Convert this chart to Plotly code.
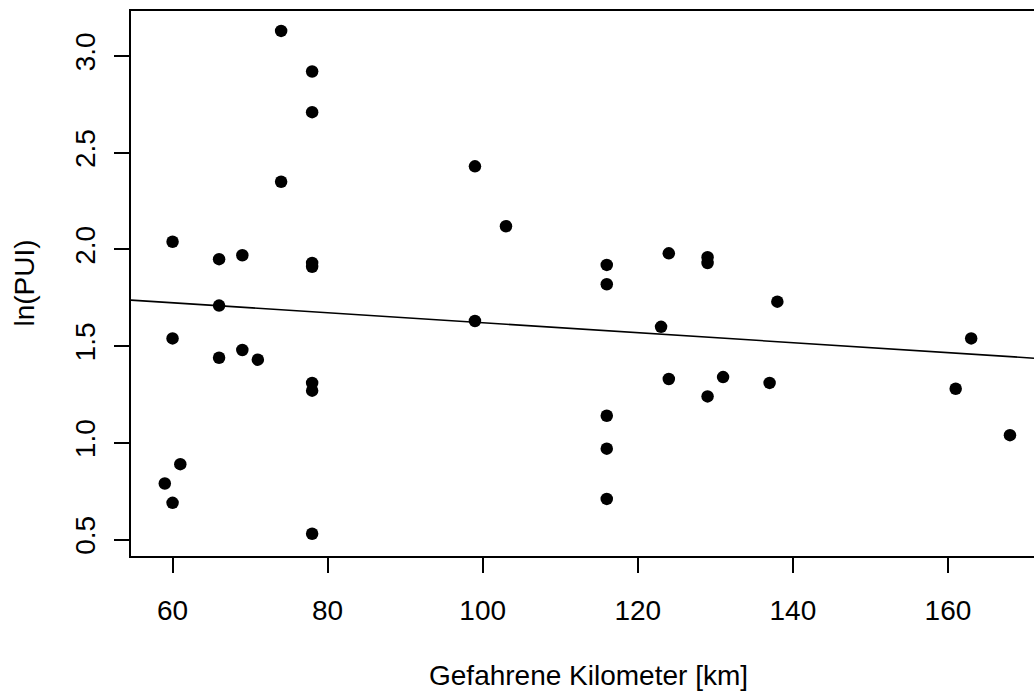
import numpy as np
import plotly.graph_objects as go

# Data
km = [60, 60, 60, 59, 61, 66, 66, 66, 69, 69, 71, 74, 74,
      78, 78, 78, 78, 78, 78, 78, 99, 99, 103,
      116, 116, 116, 116, 116, 123, 124, 124, 129, 129, 129,
      131, 137, 138, 161, 163, 168]
ln_pui = [2.04, 1.54, 0.69, 0.79, 0.89, 1.95, 1.71, 1.44, 1.97, 1.48, 1.43, 3.13, 2.35,
          2.92, 2.71, 1.93, 1.91, 1.31, 1.27, 0.53, 2.43, 1.63, 2.12,
          1.92, 1.82, 1.14, 0.97, 0.71, 1.60, 1.98, 1.33, 1.96, 1.93, 1.24,
          1.34, 1.31, 1.73, 1.28, 1.54, 1.04]

x_ticks = [60, 80, 100, 120, 140, 160]
y_ticks = [0.5, 1.0, 1.5, 2.0, 2.5, 3.0]
x_range = [54.64, 171.1]
y_range = [0.415, 3.233]

x_title = "Gefahrene Kilometer [km]"
y_title = "ln(PUI)"

# Least squares regression line (abline(lm(...)))
slope, intercept = np.polyfit(km, ln_pui, 1)
line_x = [x_range[0], x_range[1]]
line_y = [intercept + slope * v for v in line_x]

FONT = "Liberation Sans, Arial, Helvetica, sans-serif"
FS = 28

fig = go.Figure()
fig.add_trace(go.Scatter(x=line_x, y=line_y, mode="lines",
                         line=dict(color="black", width=1.6),
                         hoverinfo="skip", showlegend=False))
fig.add_trace(go.Scatter(x=km, y=ln_pui, mode="markers",
                         marker=dict(color="black", size=12.5,
                                     line=dict(width=0)),
                         showlegend=False))

W, H = 1034, 693
L, R, T, B = 131, 0, 11, 137

fig.update_layout(
    width=W, height=H,
    margin=dict(l=L, r=R, t=T, b=B),
    paper_bgcolor="white", plot_bgcolor="white",
    font=dict(family=FONT, color="black", size=FS),
    xaxis=dict(range=x_range, tickvals=x_ticks, ticktext=[str(v) for v in x_ticks],
               showgrid=False, zeroline=False,
               showline=True, linecolor="black", linewidth=2, mirror=True,
               ticks="outside", ticklen=15, tickwidth=2, tickcolor="black",
               tickfont=dict(size=FS, family=FONT, color="black"),
               ticklabelstandoff=13),
    yaxis=dict(range=y_range, tickvals=y_ticks, ticktext=[f"{v:.1f}" for v in y_ticks],
               showgrid=False, zeroline=False,
               showline=True, linecolor="black", linewidth=2, mirror=False,
               ticks="outside", ticklen=15, tickwidth=2, tickcolor="black",
               tickangle=-90,
               tickfont=dict(size=FS, family=FONT, color="black"),
               ticklabelstandoff=8),
    annotations=[
        dict(text=x_title, xref="paper", yref="paper",
             x=(588 - L) / (W - L - R), y=-(675 - (H - B)) / (H - T - B),
             xanchor="center", yanchor="middle", showarrow=False,
             font=dict(size=FS, family=FONT, color="black")),
        dict(text=y_title, xref="paper", yref="paper",
             x=-(L - 24) / (W - L - R), y=0.5, textangle=-90,
             xanchor="center", yanchor="middle", showarrow=False,
             font=dict(size=FS, family=FONT, color="black")),
    ],
)

fig.write_html("out.html")
